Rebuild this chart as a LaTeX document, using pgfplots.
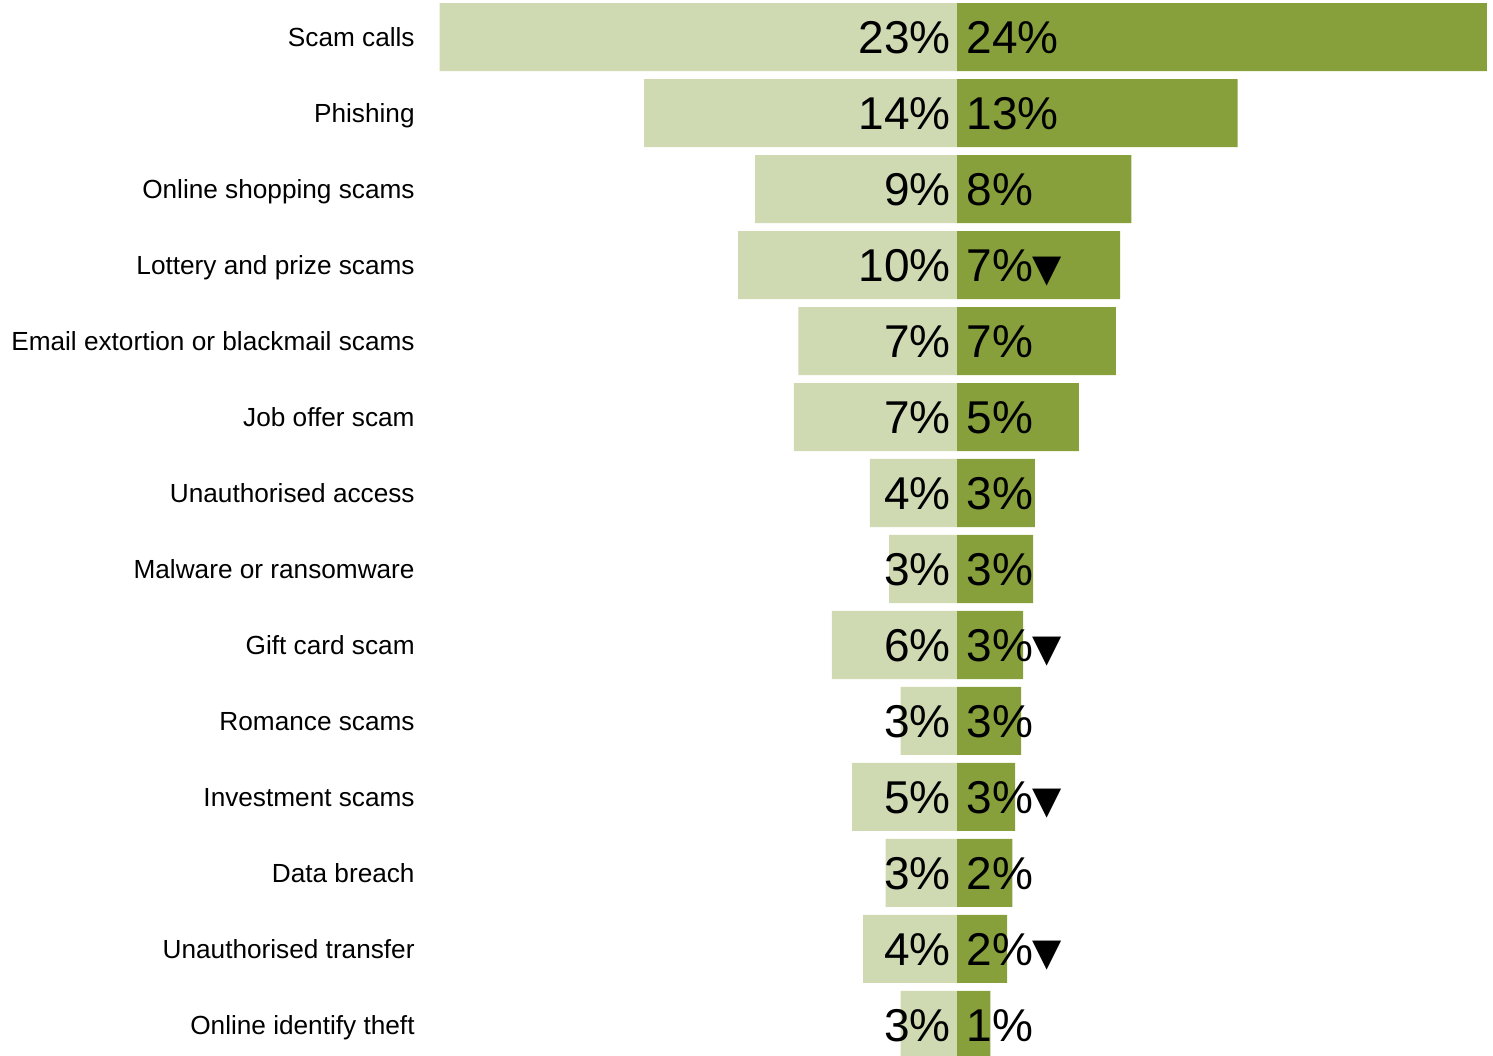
\documentclass[border=0pt]{standalone}
\usepackage{pgfplots}
\pgfplotsset{compat=1.18}
\usepackage{pgfplotstable}
\usepackage{fontspec}
\setmainfont{Liberation Sans}
\newfontfamily\symfont{DejaVu Sans}

\definecolor{prevyear}{HTML}{CFDAB3}
\definecolor{thisyear}{HTML}{87A03B}

% share of reported incidents, previous period (left) and latest period (right);
% flag = 1 marks a significant fall
\pgfplotstableread{
row left  right flag
0   23.15 23.7  0
1   14.0  12.55 0
2   9.04  7.8   0
3   9.8   7.3   1
4   7.1   7.1   0
5   7.3   5.45  0
6   3.9   3.48  0
7   3.04  3.4   0
8   5.6   2.95  1
9   2.52  2.87  0
10  4.7   2.6   1
11  3.2   2.48  0
12  4.2   2.24  1
13  2.52  1.49  0
}\scamdata

\begin{document}
\begin{tikzpicture}
\useasboundingbox (0,0) rectangle (746.5pt,527.5pt);
\begin{axis}[
  at={(219.5pt,0pt)}, anchor=south west,
  scale only axis,
  width=527pt, height=527.5pt,
  xmin=-23.18, xmax=23.98,
  ymin=-0.4868, ymax=13.395,
  y dir=reverse,
  axis line style={draw=none},
  /pgf/number format/assume math mode=true,
  xtick=\empty,
  ytick={0,...,13},
  yticklabels={Scam calls, Phishing, Online shopping scams, Lottery and prize scams,
    Email extortion or blackmail scams, Job offer scam, Unauthorised access,
    Malware or ransomware, Gift card scam, Romance scams, Investment scams,
    Data breach, Unauthorised transfer, Online identify theft},
  yticklabel style={font=\fontsize{13.1}{15}\selectfont, inner sep=0pt,
    anchor=base east, xshift=-12pt, yshift=-4.6pt},
  major tick length=0pt,
  tick style={draw=none},
  bar width=34pt,
]
% bars
\addplot [xbar, bar shift=0pt, fill=prevyear, draw=none]
  table [x expr=-\thisrow{left}, y=row] {\scamdata};
\addplot [xbar, bar shift=0pt, fill=thisyear, draw=none]
  table [x=right, y=row] {\scamdata};
% value labels at the centre line
\addplot [only marks, mark=none, point meta=explicit,
  nodes near coords={\pgfmathprintnumber[fixed,precision=0]{\pgfplotspointmeta}\%},
  every node near coord/.append style={anchor=base east, inner sep=0pt,
    xshift=-3pt, yshift=-8.4pt,
    font=\fontsize{23}{25}\selectfont, text=black}]
  table [x expr=0, y=row, meta=left] {\scamdata};
\addplot [only marks, mark=none, point meta=explicit,
  visualization depends on={\thisrow{flag} \as \flagval},
  nodes near coords={\pgfmathprintnumber[fixed,precision=0]{\pgfplotspointmeta}\%\ifdim\flagval pt>0.5pt {\symfont\fontsize{19}{20}\selectfont ▼}\fi},
  every node near coord/.append style={anchor=base west, inner sep=0pt,
    xshift=4.5pt, yshift=-8.4pt,
    font=\fontsize{23}{25}\selectfont, text=black}]
  table [x expr=0, y=row, meta=right] {\scamdata};
\end{axis}
\end{tikzpicture}
\end{document}
